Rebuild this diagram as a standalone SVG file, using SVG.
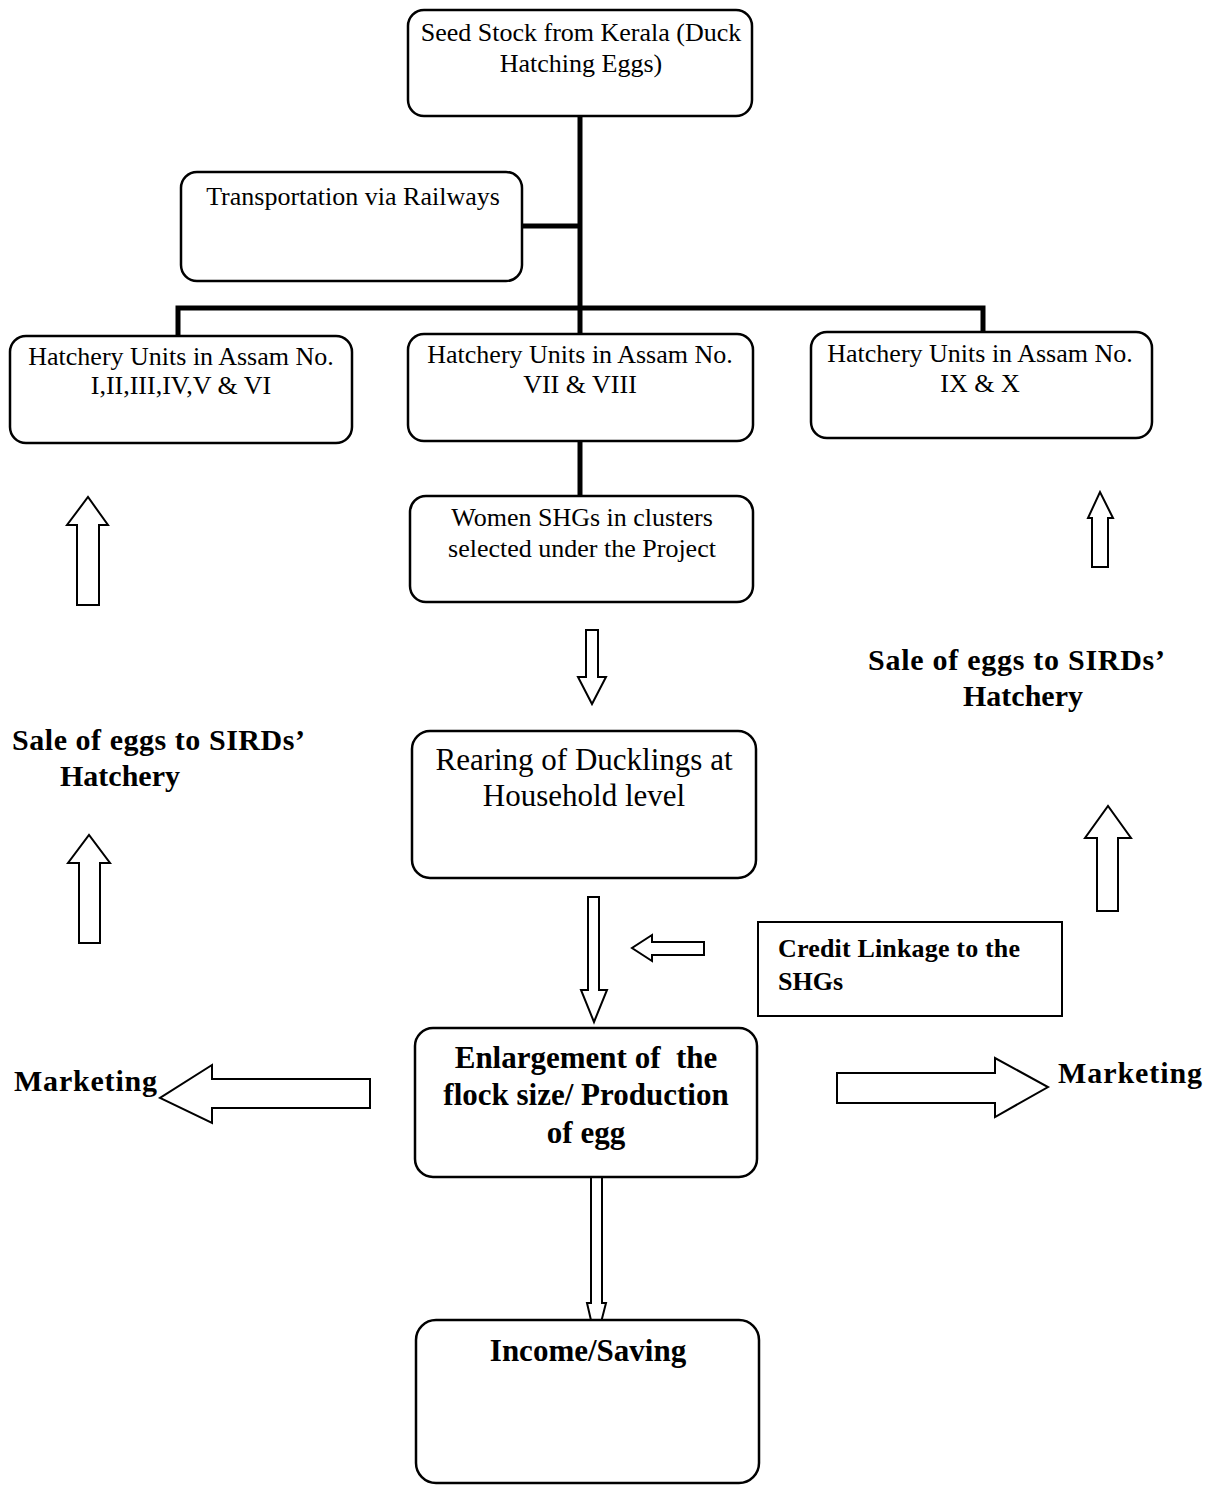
<svg xmlns="http://www.w3.org/2000/svg" width="1210" height="1486" viewBox="0 0 1210 1486">
<style>
.box{fill:#fff;stroke:#000;stroke-width:2.5}
.rect{fill:#fff;stroke:#000;stroke-width:2}
.t{font-family:"Liberation Serif","Times New Roman",serif;font-size:26px;fill:#000;text-anchor:middle}
.tb{font-family:"Liberation Serif","Times New Roman",serif;font-weight:bold;fill:#000}
.conn{stroke:#000;stroke-width:5;fill:none}
.arr{fill:#fff;stroke:#000;stroke-width:2;stroke-linejoin:miter}
</style>
<rect width="1210" height="1486" fill="#fff"/>
<g id="connectors">
  <path class="conn" d="M580 116 V335"/>
  <path class="conn" d="M522 226 H580"/>
  <path class="conn" d="M178 336 V308 H983 V331"/>
  <path class="conn" d="M580 441 V497"/>
  <polygon class="arr" points="586,630 598,630 598,677 606,677 592,704 578,677 586,677"/>
  <polygon class="arr" points="588,897 599,897 599,990 607,990 594,1022 581,990 588,990"/>
  <polygon class="arr" points="704,942 704,955 652,955 652,961 632,948 652,935 652,942"/>
  <polygon class="arr" points="591,1177 602,1177 602,1303 606,1303 596,1342 587,1303 591,1303"/>
  <polygon class="arr" points="370,1079 370,1108 212,1108 212,1123 160,1098 212,1065 212,1079"/>
  <polygon class="arr" points="837,1073 995,1073 995,1058 1048,1087 995,1117 995,1103 837,1103"/>
  <polygon class="arr" points="77,605 77,525 67,525 88,497 108,525 99,525 99,605"/>
  <polygon class="arr" points="79,943 79,863 68,863 89,835 110,863 100,863 100,943"/>
  <polygon class="arr" points="1092,567 1092,518 1088,518 1100,492 1113,518 1108,518 1108,567"/>
  <polygon class="arr" points="1097,911 1097,838 1085,838 1108,806 1131,838 1118,838 1118,911"/>
</g>
<g id="seed">
  <rect class="box" x="408" y="10" width="344" height="106" rx="16"/>
  <text class="t" x="581" y="41">Seed Stock from Kerala (Duck</text>
  <text class="t" x="581" y="72">Hatching Eggs)</text>
</g>
<g id="transport">
  <rect class="box" x="181" y="172" width="341" height="109" rx="16"/>
  <text class="t" x="353" y="205">Transportation via Railways</text>
</g>
<g id="hatch1">
  <rect class="box" x="10" y="336" width="342" height="107" rx="16"/>
  <text class="t" x="181" y="365">Hatchery Units in Assam No.</text>
  <text class="t" x="181" y="394">I,II,III,IV,V &amp; VI</text>
</g>
<g id="hatch2">
  <rect class="box" x="408" y="334" width="345" height="107" rx="16"/>
  <text class="t" x="580" y="363">Hatchery Units in Assam No.</text>
  <text class="t" x="580" y="393">VII &amp; VIII</text>
</g>
<g id="hatch3">
  <rect class="box" x="811" y="332" width="341" height="106" rx="16"/>
  <text class="t" x="980" y="362">Hatchery Units in Assam No.</text>
  <text class="t" x="980" y="392">IX &amp; X</text>
</g>
<g id="women">
  <rect class="box" x="410" y="496" width="343" height="106" rx="16"/>
  <text class="t" x="582" y="526">Women SHGs in clusters</text>
  <text class="t" x="582" y="557">selected under the Project</text>
</g>
<g id="rearing">
  <rect class="box" x="412" y="731" width="344" height="147" rx="18"/>
  <text class="t" x="584" y="770" style="font-size:31px">Rearing of Ducklings at</text>
  <text class="t" x="584" y="806" style="font-size:31px">Household level</text>
</g>
<g id="credit">
  <rect class="rect" x="758" y="922" width="304" height="94"/>
  <text class="tb" x="778" y="957" font-size="26" textLength="242">Credit Linkage to the</text>
  <text class="tb" x="778" y="990" font-size="26">SHGs</text>
</g>
<g id="enlarge">
  <rect class="box" x="415" y="1028" width="342" height="149" rx="18"/>
  <text class="tb" x="586" y="1068" font-size="31" text-anchor="middle" xml:space="preserve">Enlargement of  the</text>
  <text class="tb" x="586" y="1105" font-size="31" text-anchor="middle">flock size/ Production</text>
  <text class="tb" x="586" y="1143" font-size="31" text-anchor="middle">of egg</text>
</g>
<g id="income">
  <rect class="box" x="416" y="1320" width="343" height="163" rx="20"/>
  <text class="tb" x="588" y="1361" font-size="31" text-anchor="middle">Income/Saving</text>
</g>
<g id="sale-left">
  <text class="tb" x="12" y="750" font-size="30" textLength="293">Sale of eggs to SIRDs’</text>
  <text class="tb" x="60" y="786" font-size="30">Hatchery</text>
</g>
<g id="sale-right">
  <text class="tb" x="868" y="670" font-size="30" textLength="297">Sale of eggs to SIRDs’</text>
  <text class="tb" x="963" y="706" font-size="30">Hatchery</text>
</g>
<g id="marketing-left">
  <text class="tb" x="14" y="1091" font-size="30" textLength="143">Marketing</text>
</g>
<g id="marketing-right">
  <text class="tb" x="1058" y="1083" font-size="30" textLength="144">Marketing</text>
</g>
</svg>
